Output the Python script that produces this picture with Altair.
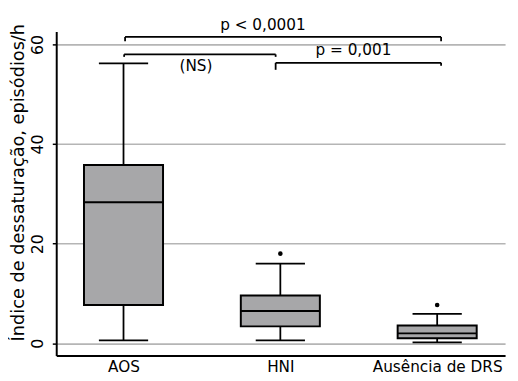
import altair as alt
import pandas as pd

# ---- data ----
categories = ["AOS", "HNI", "Ausência de DRS"]
positions = [1, 2, 3]
whisker_lo = [0.6, 0.6, 0.2]
q1 = [7.7, 3.4, 1.0]
median = [28.3, 6.5, 2.0]
q3 = [35.8, 9.6, 3.6]
whisker_hi = [56.2, 16.0, 5.9]

outlier_pos = [2, 3]
outlier_val = [18.0, 7.7]

# significance brackets (category-axis units, index units)
br_x1 = [1.01, 1.004, 1.97]
br_x2 = [3.025, 1.97, 3.025]
br_y = [61.5, 58.0, 56.3]
br_tip1 = [60.65, 57.5, 54.9]
br_tip2 = [60.65, 57.5, 55.7]

ann_text = ["p < 0,0001", "(NS)", "p = 0,001"]
ann_x = [1.889, 1.462, 2.466]
ann_y = [63.97, 55.6, 58.77]

y_title = "Índice de dessaturação, episódios/h"
FONT = "DejaVu Sans"

box_df = pd.DataFrame({"cat": categories, "pos": positions, "lo": whisker_lo,
                       "q1": q1, "med": median, "q3": q3, "hi": whisker_hi})
out_df = pd.DataFrame({"pos": outlier_pos, "val": outlier_val})
hbr_df = pd.DataFrame({"x1": br_x1, "x2": br_x2, "y": br_y})
vbr_df = pd.DataFrame({"x": br_x1 + br_x2, "y": br_y + br_y, "tip": br_tip1 + br_tip2})
ann_df = pd.DataFrame({"t": ann_text, "x": ann_x, "y": ann_y})

xscale = alt.Scale(domain=[0.571, 3.433], nice=False, zero=False)
yscale = alt.Scale(domain=[-2.43, 62.57], nice=False, zero=False)

label_expr = "[" + ",".join("'%s'" % c for c in categories) + "][datum.value - 1]"
xaxis = alt.Axis(values=positions, labelExpr=label_expr, ticks=False, grid=False,
                 domainColor="black", domainWidth=2, labelFont=FONT, labelFontSize=15.5,
                 labelColor="black", labelPadding=4, title=None)
yaxis = alt.Axis(values=[0, 20, 40, 60], grid=True, gridColor="#b5b5b5", gridWidth=1.6,
                 domainColor="black", domainWidth=2, tickColor="black", tickSize=4,
                 tickWidth=1.5, labelAngle=270, labelAlign="center", labelBaseline="bottom",
                 labelPadding=7, labelFont=FONT, labelFontSize=16, labelColor="black",
                 title=y_title, titleFont=FONT, titleFontSize=18, titleFontWeight="normal",
                 titleColor="black", titleX=-38, titleY=153, titleBaseline="middle")


def X(f):
    return alt.X(f, type="quantitative", scale=xscale, axis=xaxis)


def Y(f):
    return alt.Y(f, type="quantitative", scale=yscale, axis=yaxis)


base = alt.Chart(box_df).transform_calculate(
    xl="datum.pos - 0.252", xr="datum.pos + 0.252",
    cl="datum.pos - 0.157", cr="datum.pos + 0.157")

whisk = base.mark_rule(color="black", strokeWidth=1.8).encode(x=X("pos:Q"), y=Y("lo:Q"), y2="hi:Q")
cap_lo = base.mark_rule(color="black", strokeWidth=1.8).encode(x=X("cl:Q"), x2="cr:Q", y=Y("lo:Q"))
cap_hi = base.mark_rule(color="black", strokeWidth=1.8).encode(x=X("cl:Q"), x2="cr:Q", y=Y("hi:Q"))
box = base.mark_rect(fill="#a7a7a9", stroke="black", strokeWidth=2).encode(
    x=X("xl:Q"), x2="xr:Q", y=Y("q1:Q"), y2="q3:Q")
med = base.mark_rule(color="black", strokeWidth=2).encode(x=X("xl:Q"), x2="xr:Q", y=Y("med:Q"))
outl = alt.Chart(out_df).mark_circle(color="black", opacity=1, size=22).encode(
    x=X("pos:Q"), y=Y("val:Q"))
hbr = alt.Chart(hbr_df).mark_rule(color="black", strokeWidth=1.8).encode(
    x=X("x1:Q"), x2="x2:Q", y=Y("y:Q"))
vbr = alt.Chart(vbr_df).mark_rule(color="black", strokeWidth=1.8).encode(
    x=X("x:Q"), y=Y("y:Q"), y2="tip:Q")
ann = alt.Chart(ann_df).mark_text(font=FONT, fontSize=15.5, color="black",
                                  align="center", baseline="middle").encode(
    x=X("x:Q"), y=Y("y:Q"), text="t:N")

chart = alt.layer(whisk, cap_lo, cap_hi, box, med, outl, hbr, vbr, ann).properties(
    width=456, height=329,
    autosize=alt.AutoSizeParams(type="none"),
    padding={"left": 49, "top": 21, "right": 5, "bottom": 23},
).configure_view(stroke=None)

chart.save("out.html", embed_options={"renderer": "svg", "actions": False})
